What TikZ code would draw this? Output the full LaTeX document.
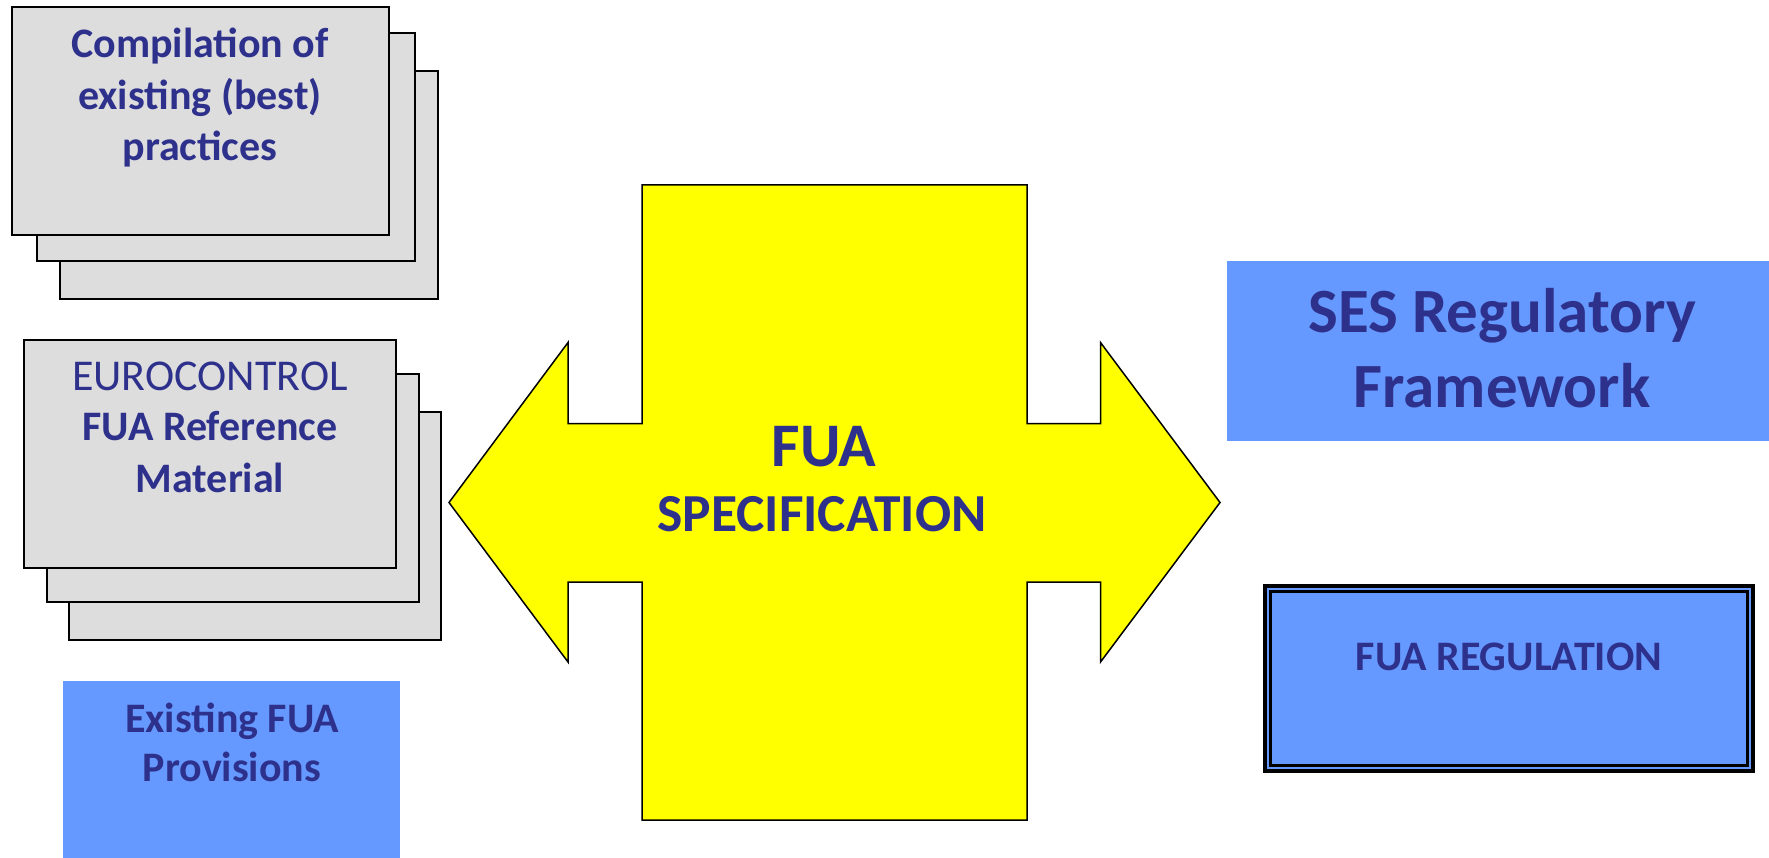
\documentclass[tikz,border=0pt]{standalone}
\usepackage{fontspec}
\setmainfont{Carlito}
\definecolor{navy}{RGB}{46,49,140}
\definecolor{boxgray}{RGB}{221,221,221}
\definecolor{boxblue}{RGB}{102,153,255}
\definecolor{fuayellow}{RGB}{255,255,0}
\tikzset{
  card/.style={draw=black, line width=2pt, fill=boxgray, anchor=north west, inner sep=0pt, outer sep=0pt},
  bluebox/.style={fill=boxblue, draw=none, anchor=north west, inner sep=0pt, outer sep=0pt},
  lbl/.style={text=navy, font=\fontsize{42}{50}\selectfont\bfseries, inner sep=0pt, anchor=base},
  lblreg/.style={text=navy, font=\fontsize{44}{50}\selectfont, inner sep=0pt, anchor=base},
  lblbig/.style={text=navy, font=\fontsize{63}{70}\selectfont\bfseries, inner sep=0pt, anchor=base},
}
\begin{document}
\begin{tikzpicture}[x=1pt,y=-1pt]
\useasboundingbox[fill=white] (0,0) rectangle (1769,858);
% stack 1
\node[card, minimum width=378pt, minimum height=228pt] (s1c) at (60,71) {};
\node[card, minimum width=378pt, minimum height=228pt] (s1b) at (37,33) {};
\node[card, minimum width=377pt, minimum height=228pt] (s1a) at (12,7) {};
\node[lbl] (t1a) at (200,58) {Compilation of};
\node[lbl] (t1b) at (200,110) {existing (best)};
\node[lbl] (t1c) at (200,161) {practices};
% stack 2
\node[card, minimum width=372pt, minimum height=228pt] (s2c) at (69,412) {};
\node[card, minimum width=372pt, minimum height=228pt] (s2b) at (47,374) {};
\node[card, minimum width=372pt, minimum height=228pt] (s2a) at (24,340) {};
\node[lblreg] (t2a) at (210,390) {EUROCONTROL};
\node[lbl] (t2b) at (210,440) {FUA Reference};
\node[lbl] (t2c) at (210,492) {Material};
% existing provisions
\node[bluebox, minimum width=337pt, minimum height=180pt] (prov) at (63,681) {};
\node[lbl] (t3a) at (232,732) {Existing FUA};
\node[lbl] (t3b) at (232,781) {Provisions};
% SES
\node[bluebox, minimum width=545pt, minimum height=180pt] (ses) at (1227,261) {};
\node[lblbig] (t4a) at (1502,333) {SES Regulatory};
\node[lblbig] (t4b) at (1502,407) {Framework};
% FUA regulation
\node[fill=boxblue, draw=black, line width=3.5pt, anchor=north west, inner sep=0pt, outer sep=0pt, minimum width=488pt, minimum height=185pt] (reg) at (1265,586) {};
\draw[black, line width=2.5pt] ([xshift=5.5pt,yshift=-5.5pt]reg.north west) rectangle ([xshift=-5.5pt,yshift=5.5pt]reg.south east);
\node[lbl] (t5) at (1509,670) {FUA REGULATION};
% yellow double arrow
\draw[fill=fuayellow, draw=black, line width=1.5pt, line join=miter]
  (642,185) -- (1027,185) -- (1027,423.5) -- (1100.5,423.5) -- (1100.5,342.5)
  -- (1220,502.5) -- (1100.5,662) -- (1100.5,582) -- (1027,582) -- (1027,820)
  -- (642,820) -- (642,582) -- (568,582) -- (568,662) -- (449,502.5)
  -- (568,342.5) -- (568,423.5) -- (642,423.5) -- cycle;
\node[text=navy, font=\fontsize{62}{70}\selectfont\bfseries, inner sep=0pt, anchor=base] (t6a) at (824,466) {FUA};
\node[text=navy, font=\fontsize{53.5}{60}\selectfont\bfseries, inner sep=0pt, anchor=base] (t6b) at (822,531) {SPECIFICATION};
\end{tikzpicture}
\end{document}
